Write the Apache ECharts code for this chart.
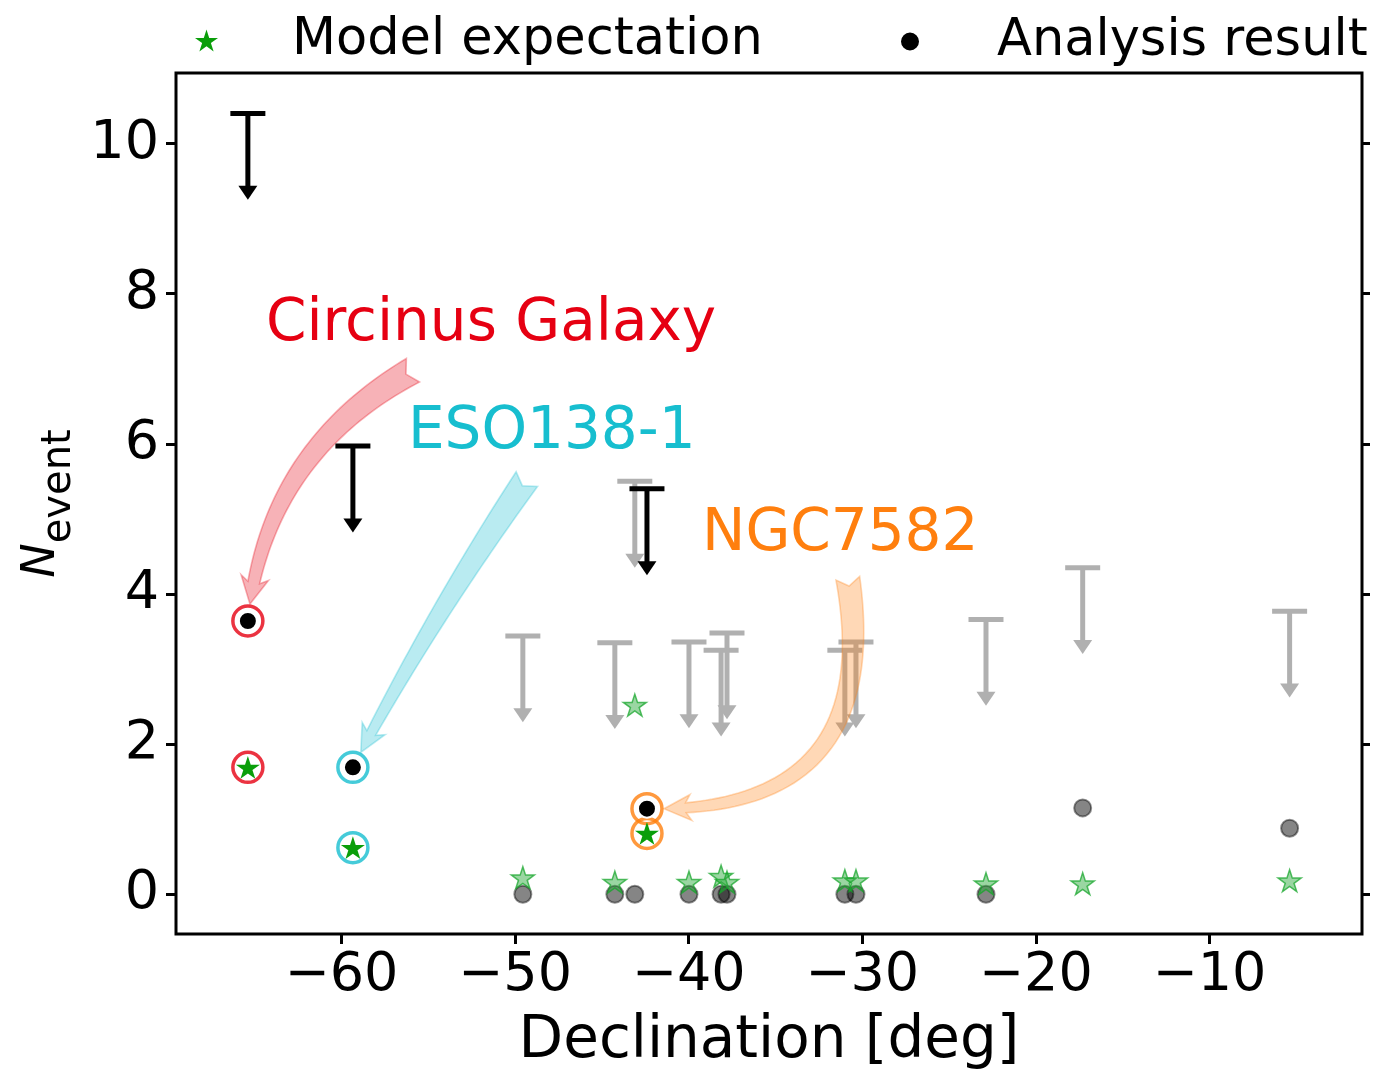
<!DOCTYPE html>
<html>
<head>
<meta charset="utf-8">
<script src="https://cdn.jsdelivr.net/npm/echarts@6/dist/echarts.min.js"></script>
<style>
  html, body { margin: 0; padding: 0; background: #ffffff; overflow: hidden; width: 1395px; height: 1076px; }
  #chart { width: 1395px; height: 1076px; display: block; }
</style>
</head>
<body>
<div id="chart"></div>
<script>
// ---- Highlighted sources ----
const sourceNames = ['Circinus Galaxy', 'ESO138-1', 'NGC7582'];
const sourceDec = [-65.39, -59.34, -42.40];
const sourceUpperLimit = [10.40, 5.97, 5.40];
const sourceResult = [3.64, 1.69, 1.14];
const sourceModel = [1.69, 0.62, 0.81];

// ---- Remaining sources of the list ----
const otherDec = [-49.55, -44.25, -43.10, -39.98, -38.13, -37.79, -31.00, -30.36, -22.87, -17.30, -5.38];
const otherUpperLimit = [3.44, 3.35, 5.50, 3.36, 3.25, 3.48, 3.25, 3.36, 3.66, 4.35, 3.77];
const otherResult = [0, 0, 0, 0, 0, 0, 0, 0, 0, 1.15, 0.88];
const otherModel = [0.22, 0.16, 2.52, 0.16, 0.24, 0.16, 0.18, 0.18, 0.14, 0.14, 0.18];

// Length of the upper-limit arrows, in N_event
const upperLimitDrop = 1.15;

// Source labels (left edge, vertical middle) and arrow tails, in data coordinates
const labelPos = [[-64.35, 7.58], [-56.17, 6.15], [-39.23, 4.79]];
const arrowTail = [[-55.88, 6.98], [-49.32, 5.53], [-30.83, 4.21]];

// Axis ticks
const xTicks = [-60, -50, -40, -30, -20, -10];
const yTicks = [0, 2, 4, 6, 8, 10];
const xRange = [-69.53, -1.21];
const yRange = [-0.53, 10.94];

// ---- Styles ----
const FONT = 'DejaVu Sans';
const sourceColors = ['#e60012', '#17becf', '#ff7f0e'];
const arrowBend = [-0.26, -0.03, 0.6];         // arc3-like curvature of each annotation arrow
const arrowWidths = [[27, 12, 28], [26, 10, 26], [24, 10, 26]]; // tail, neck, head widths (px)
const STAR = 'path://M0,-1 L0.2245,-0.309 L0.951,-0.309 L0.363,0.118 L0.588,0.809 L0,0.382 L-0.588,0.809 L-0.363,0.118 L-0.951,-0.309 L-0.2245,-0.309 Z';

const zip = (xs, ys) => xs.map((x, i) => [x, ys[i]]);
const minusSign = v => String(v).replace('-', '\u2212');

// Upper limit: cap at the limit, arrow pointing down
function upperLimitRenderer(color) {
  return function (params, api) {
    const top = api.coord([api.value(0), api.value(1)]);
    const tip = api.coord([api.value(0), api.value(1) - upperLimitDrop]);
    const headLen = 14, headHalf = 9.5, capHalf = 17.5;
    return {
      type: 'group',
      children: [
        { type: 'line', shape: { x1: top[0], y1: top[1], x2: tip[0], y2: tip[1] - headLen + 2 },
          style: { stroke: color, lineWidth: 5 } },
        { type: 'line', shape: { x1: top[0] - capHalf, y1: top[1], x2: top[0] + capHalf, y2: top[1] },
          style: { stroke: color, lineWidth: 5 } },
        { type: 'polygon', shape: { points: [[tip[0] - headHalf, tip[1] - headLen], [tip[0] + headHalf, tip[1] - headLen], [tip[0], tip[1]]] },
          style: { fill: color } }
      ]
    };
  };
}

// Curved tapered arrow from a label to its source, plus the label itself
function annotationRenderer(params, api) {
  const i = params.dataIndex;
  const p0 = api.coord([api.value(0), api.value(1)]);
  const p2 = api.coord([api.value(2), api.value(3)]);
  const lp = api.coord([api.value(4), api.value(5)]);
  const color = sourceColors[i];
  const [tailW, neckW, headW] = arrowWidths[i];
  const dx = p2[0] - p0[0], dy = p2[1] - p0[1];
  const f = arrowBend[i];
  const c = [(p0[0] + p2[0]) / 2 + f * dy, (p0[1] + p2[1]) / 2 - f * dx];

  const N = 240, pts = [], cum = [0];
  for (let k = 0; k <= N; k++) {
    const t = k / N, u = 1 - t;
    pts.push([u * u * p0[0] + 2 * u * t * c[0] + t * t * p2[0],
              u * u * p0[1] + 2 * u * t * c[1] + t * t * p2[1]]);
    if (k) cum.push(cum[k - 1] + Math.hypot(pts[k][0] - pts[k - 1][0], pts[k][1] - pts[k - 1][1]));
  }
  const total = cum[N];
  function at(s) {
    let k = 1;
    while (k < N && cum[k] < s) k++;
    const a = pts[k - 1], b = pts[k];
    const seg = (cum[k] - cum[k - 1]) || 1, r = (s - cum[k - 1]) / seg;
    return { x: a[0] + (b[0] - a[0]) * r, y: a[1] + (b[1] - a[1]) * r,
             tx: (b[0] - a[0]) / seg, ty: (b[1] - a[1]) / seg };
  }
  const sTip = total - 17, sNeck = sTip - 22;
  const left = [], right = [];
  const steps = 48;
  for (let k = 0; k <= steps; k++) {
    const s = sNeck * k / steps;
    const p = at(s);
    const hw = (tailW * (1 - k / steps) + neckW * k / steps) / 2;
    left.push([p.x - p.ty * hw, p.y + p.tx * hw]);
    right.push([p.x + p.ty * hw, p.y - p.tx * hw]);
  }
  const neck = at(sNeck), tip = at(sTip), start = at(0);
  const hh = headW / 2;
  const back = 5;
  const headL = [neck.x - neck.ty * hh - neck.tx * back, neck.y + neck.tx * hh - neck.ty * back];
  const headR = [neck.x + neck.ty * hh - neck.tx * back, neck.y - neck.tx * hh - neck.ty * back];
  const notch = [start.x + start.tx * 8, start.y + start.ty * 8];
  const points = left.concat([headL, [tip.x, tip.y], headR], right.slice().reverse(), [notch]);

  return {
    type: 'group',
    children: [
      { type: 'polygon', shape: { points },
        style: { fill: color, stroke: color, lineWidth: 1.6, opacity: 0.3 } },
      { type: 'text', x: lp[0], y: lp[1],
        style: { text: sourceNames[i], fill: color, font: '58px "' + FONT + '"',
                 align: 'left', verticalAlign: 'middle' } }
    ]
  };
}

const ringData = [];
sourceDec.forEach((d, i) => {
  ringData.push({ value: [d, sourceResult[i]], itemStyle: { borderColor: sourceColors[i] } });
  ringData.push({ value: [d, sourceModel[i]], itemStyle: { borderColor: sourceColors[i] } });
});

const annotationData = sourceDec.map((d, i) =>
  [arrowTail[i][0], arrowTail[i][1], d, sourceResult[i], labelPos[i][0], labelPos[i][1]]);

const chart = echarts.init(document.getElementById('chart'), null, { renderer: 'canvas', width: 1395, height: 1076 });

const legendText = { fontSize: 51, fontFamily: FONT, color: '#000' };

chart.setOption({
  backgroundColor: '#ffffff',
  animation: false,
  textStyle: { fontFamily: FONT },
  legend: [
    { data: ['Model expectation'], left: 190, top: 10, itemWidth: 23, itemHeight: 23,
      selectedMode: false, textStyle: Object.assign({ padding: [0, 0, 0, 69] }, legendText) },
    { data: ['Analysis result'], left: 894, top: 11, itemWidth: 20, itemHeight: 20,
      selectedMode: false, textStyle: Object.assign({ padding: [0, 0, 0, 72] }, legendText) }
  ],
  grid: { left: 176, top: 73, width: 1186, height: 867, show: true,
          borderColor: '#000', borderWidth: 3, backgroundColor: 'transparent' },
  xAxis: {
    type: 'value', min: xRange[0], max: xRange[1],
    name: 'Declination [deg]', nameLocation: 'middle', nameGap: 79,
    nameTextStyle: { fontSize: 58, fontFamily: FONT, color: '#000' },
    axisLine: { show: false, onZero: false },
    axisTick: { show: true, customValues: xTicks, length: 10, lineStyle: { color: '#000', width: 3 } },
    axisLabel: { customValues: xTicks, formatter: minusSign, fontSize: 54, fontFamily: FONT,
                 color: '#000', margin: 15 },
    splitLine: { show: false }
  },
  yAxis: [
    {
      type: 'value', min: yRange[0], max: yRange[1], position: 'left',
      name: '{n|N}{s|event}', nameLocation: 'middle', nameGap: 86, nameRotate: 90,
      nameTextStyle: {
        color: '#000',
        rich: {
          n: { fontSize: 46, fontStyle: 'italic', fontFamily: FONT, color: '#000',
               verticalAlign: 'bottom', lineHeight: 64, padding: [0, 0, 14, 0] },
          s: { fontSize: 40, fontFamily: FONT, color: '#000', verticalAlign: 'bottom', lineHeight: 64 }
        }
      },
      axisLine: { show: false, onZero: false },
      axisTick: { show: true, customValues: yTicks, length: 10, lineStyle: { color: '#000', width: 3 } },
      axisLabel: { customValues: yTicks, fontSize: 54, fontFamily: FONT, color: '#000', margin: 17 },
      splitLine: { show: false }
    },
    {
      type: 'value', min: yRange[0], max: yRange[1], position: 'right',
      axisLine: { show: false, onZero: false },
      axisTick: { show: true, customValues: yTicks, length: 8, lineStyle: { color: '#000', width: 3 } },
      axisLabel: { show: false },
      splitLine: { show: false }
    }
  ],
  series: [
    // legend styles come from the first two series
    { name: 'Model expectation', type: 'scatter', z: 9, symbol: STAR, symbolSize: 24, symbolKeepAspect: true,
      data: zip(sourceDec, sourceModel),
      itemStyle: { color: '#0a9e0a', opacity: 1 } },
    { name: 'Analysis result', type: 'scatter', z: 9, symbol: 'circle', symbolSize: 18,
      data: zip(sourceDec, sourceResult),
      itemStyle: { color: '#000', borderColor: '#fff', borderWidth: 2, opacity: 1 } },

    { name: 'otherLimits', type: 'custom', z: 2, clip: false,
      renderItem: upperLimitRenderer('#b0b0b0'),
      encode: { x: 0, y: 1 }, data: zip(otherDec, otherUpperLimit) },
    { name: 'otherResults', type: 'scatter', z: 3, symbol: 'circle', symbolSize: 17,
      data: zip(otherDec, otherResult),
      itemStyle: { color: 'rgba(0,0,0,0.6)', borderColor: 'rgba(0,0,0,0.55)', borderWidth: 2 } },
    { name: 'otherModels', type: 'scatter', z: 4, symbol: STAR, symbolSize: 23, symbolKeepAspect: true,
      data: zip(otherDec, otherModel),
      itemStyle: { color: 'rgba(44,170,60,0.6)', borderColor: 'rgba(20,165,40,0.9)', borderWidth: 1.5 } },

    { name: 'annotations', type: 'custom', z: 5, clip: false,
      renderItem: annotationRenderer,
      encode: { x: [0, 2, 4], y: [1, 3, 5] }, data: annotationData },

    { name: 'sourceLimits', type: 'custom', z: 6, clip: false,
      renderItem: upperLimitRenderer('#000'),
      encode: { x: 0, y: 1 }, data: zip(sourceDec, sourceUpperLimit) },
    { name: 'sourceRings', type: 'scatter', z: 7, symbol: 'circle', symbolSize: 30,
      data: ringData,
      itemStyle: { color: 'rgba(255,255,255,0)', borderWidth: 3.5 } }
  ]
});
</script>
</body>
</html>
